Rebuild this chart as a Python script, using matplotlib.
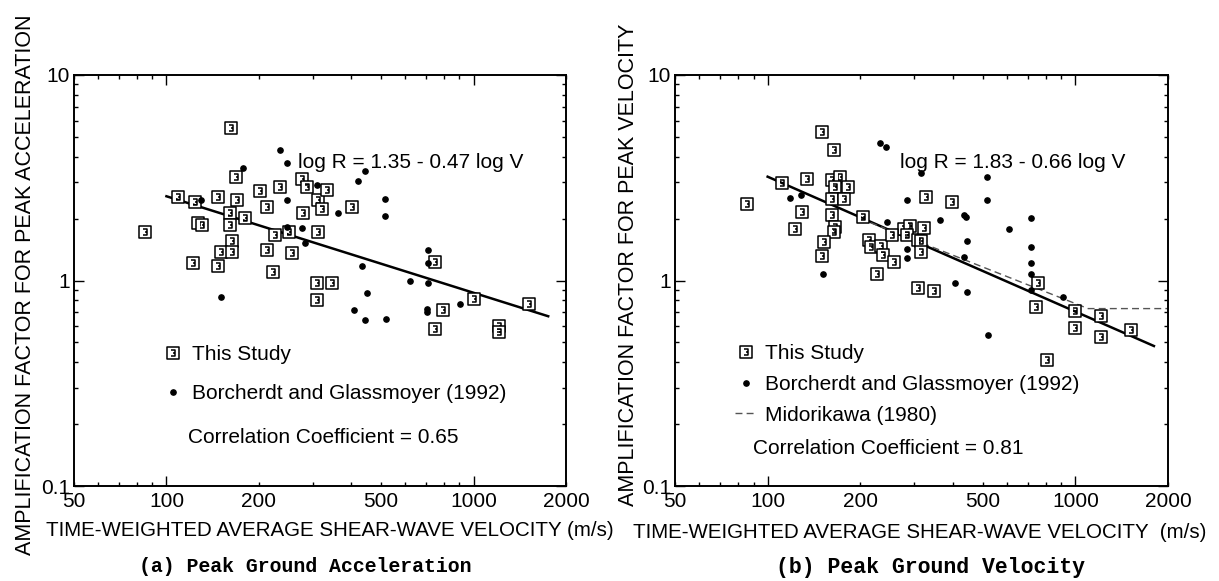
import matplotlib
matplotlib.use("Agg")
import matplotlib.pyplot as plt
from matplotlib.path import Path
from matplotlib.ticker import FixedLocator, FuncFormatter

plt.rcParams['font.family'] = ['Liberation Sans', 'DejaVu Sans']

# ---- panel (a): peak ground acceleration ----
a_study_v = [162, 85, 168, 109, 124, 147, 170, 202, 235, 212, 276, 286, 312, 127, 131,
             161, 161, 180, 163, 151, 163, 122, 147, 226, 250, 212, 256, 223, 279, 310,
             310, 312, 333, 320, 402, 345, 750, 798, 750, 1000, 1510, 1206, 1206]
a_study_r = [5.5, 1.72, 3.20, 2.56, 2.42, 2.56, 2.47, 2.74, 2.84, 2.29, 3.12, 2.86, 2.47, 1.90, 1.86,
             2.13, 1.86, 2.01, 1.55, 1.38, 1.38, 1.21, 1.18, 1.66, 1.73, 1.41, 1.36, 1.10, 2.12, 0.97,
             0.80, 1.73, 2.75, 2.24, 2.27, 0.975, 1.23, 0.72, 0.58, 0.81, 0.77, 0.60, 0.56]
a_bg_v = [235, 247, 178, 130, 247, 247, 276, 283, 150, 309, 444, 422, 515, 515, 363,
          433, 621, 713, 713, 713, 449, 407, 444, 519, 704, 704, 904]
a_bg_r = [4.31, 3.72, 3.54, 2.47, 2.47, 1.83, 1.80, 1.52, 0.83, 2.92, 3.41, 3.05, 2.49, 2.06, 2.12,
          1.17, 1.00, 0.975, 1.40, 1.21, 0.87, 0.72, 0.64, 0.65, 0.73, 0.70, 0.77]
a_fit_v = [100, 1750]
a_fit_r = [2.57, 0.67]

# ---- panel (b): peak ground velocity ----
b_study_v = [150, 164, 86, 111, 134, 162, 172, 165, 183, 162, 177, 129, 123, 162, 204,
             166, 164, 153, 150, 226, 213, 216, 233, 237, 257, 277, 290, 284, 308, 308,
             326, 398, 322, 314, 314, 347, 754, 744, 1000, 1000, 1211, 1517, 1211, 808, 254]
b_study_r = [5.26, 4.31, 2.36, 2.99, 3.11, 3.08, 3.18, 2.84, 2.84, 2.49, 2.49, 2.16, 1.78, 2.08, 2.03,
             1.83, 1.73, 1.54, 1.31, 1.08, 1.57, 1.46, 1.47, 1.33, 1.23, 1.79, 1.84, 1.67, 1.57, 0.92,
             2.56, 2.42, 1.81, 1.56, 1.38, 0.89, 0.975, 0.745, 0.71, 0.59, 0.67, 0.574, 0.53, 0.41, 1.67]
b_bg_v = [231, 243, 118, 128, 284, 245, 284, 284, 151, 314, 515, 515, 435, 440, 363,
          717, 609, 446, 717, 717, 717, 717, 435, 405, 446, 909, 520]
b_bg_r = [4.65, 4.48, 2.51, 2.61, 2.47, 1.93, 1.43, 1.28, 1.08, 3.35, 3.18, 2.47, 2.08, 2.03, 1.97,
          2.02, 1.79, 1.56, 1.45, 1.21, 1.08, 0.90, 1.30, 0.975, 0.88, 0.83, 0.54]
b_fit_v = [100, 1800]
b_fit_r = [3.20, 0.48]
b_mido_v = [200, 1100, 2000]
b_mido_r = [2.0, 0.73, 0.73]

x_major = [100, 1000]
x_minor = [50, 60, 70, 80, 90, 200, 300, 400, 500, 600, 700, 800, 900, 2000]
x_labelled = [50, 200, 500, 2000]
y_major = [0.1, 1, 10]
y_minor = [0.2, 0.3, 0.4, 0.5, 0.6, 0.7, 0.8, 0.9, 2, 3, 4, 5, 6, 7, 8, 9]

# open square with a small bracket inside, like the printed symbol
sq_verts = [(-1, -1), (1, -1), (1, 1), (-1, 1), (-1, -1),
            (-0.4, 0.45), (0.35, 0.45), (0.35, -0.45), (-0.4, -0.45),
            (-0.05, 0.0), (0.35, 0.0)]
sq_codes = [Path.MOVETO, Path.LINETO, Path.LINETO, Path.LINETO, Path.CLOSEPOLY,
            Path.MOVETO, Path.LINETO, Path.LINETO, Path.LINETO,
            Path.MOVETO, Path.LINETO]
sq_marker = Path(sq_verts, sq_codes)

W, H = 1219, 581
fig = plt.figure(figsize=(W / 100, H / 100), dpi=100)
ax_a = fig.add_axes([74 / W, 95 / H, 492 / W, 411 / H])
ax_b = fig.add_axes([675 / W, 95 / H, 493 / W, 411 / H])


def style_axis(ax):
    ax.set_xscale('log')
    ax.set_yscale('log')
    ax.set_xlim(50, 2000)
    ax.set_ylim(0.1, 10)
    ax.xaxis.set_major_locator(FixedLocator(x_major))
    ax.xaxis.set_minor_locator(FixedLocator(x_minor))
    ax.xaxis.set_major_formatter(FuncFormatter(lambda v, p: f'{v:g}'))
    ax.xaxis.set_minor_formatter(FuncFormatter(
        lambda v, p: f'{v:g}' if round(v) in x_labelled else ''))
    ax.yaxis.set_major_locator(FixedLocator(y_major))
    ax.yaxis.set_minor_locator(FixedLocator(y_minor))
    ax.yaxis.set_major_formatter(FuncFormatter(lambda v, p: f'{v:g}'))
    ax.yaxis.set_minor_formatter(FuncFormatter(lambda v, p: ''))
    ax.tick_params(which='both', direction='in', top=True, right=True,
                   width=1.0, labelsize=15)
    ax.tick_params(which='major', length=7)
    ax.tick_params(which='minor', length=2.8)
    ax.tick_params(axis='x', which='both', pad=4)
    ax.tick_params(axis='y', which='both', pad=3)
    for s in ax.spines.values():
        s.set_linewidth(1.4)


def draw_points(ax, sv, sr, bv, br):
    h1, = ax.plot(sv, sr, ls='none', marker=sq_marker, ms=8.3, mfc='white',
                  mec='black', mew=1.1, label='This Study', zorder=3)
    h2, = ax.plot(bv, br, ls='none', marker='o', ms=3.8, color='black',
                  label='Borcherdt and Glassmoyer (1992)', zorder=4)
    return h1, h2


# panel (a)
style_axis(ax_a)
ha1, ha2 = draw_points(ax_a, a_study_v, a_study_r, a_bg_v, a_bg_r)
ax_a.plot(a_fit_v, a_fit_r, color='black', lw=1.8, zorder=2)
ax_a.text(0.455, 0.788, 'log R = 1.35 - 0.47 log V', transform=ax_a.transAxes,
          fontsize=15, va='center', ha='left')
ax_a.legend(handles=[ha1, ha2], loc='upper left', bbox_to_anchor=(0.18, 0.343),
            frameon=False, fontsize=15, borderpad=0, borderaxespad=0,
            handlelength=1.0, handletextpad=0.4, labelspacing=0.95)
ax_a.text(0.232, 0.117, 'Correlation Coefficient = 0.65', transform=ax_a.transAxes,
          fontsize=15, va='center', ha='left')

# panel (b)
style_axis(ax_b)
hb1, hb2 = draw_points(ax_b, b_study_v, b_study_r, b_bg_v, b_bg_r)
ax_b.plot(b_fit_v, b_fit_r, color='black', lw=1.8, zorder=2)
hb3, = ax_b.plot(b_mido_v, b_mido_r, color='#555555', lw=1.0, ls=(0, (5, 3)),
                 label='Midorikawa (1980)', zorder=2)
ax_b.text(0.456, 0.786, 'log R = 1.83 - 0.66 log V', transform=ax_b.transAxes,
          fontsize=15, va='center', ha='left')
ax_b.legend(handles=[hb1, hb2, hb3], loc='upper left', bbox_to_anchor=(0.122, 0.345),
            frameon=False, fontsize=15, borderpad=0, borderaxespad=0,
            handlelength=1.05, handletextpad=0.4, labelspacing=0.56)
ax_b.text(0.158, 0.092, 'Correlation Coefficient = 0.81', transform=ax_b.transAxes,
          fontsize=15, va='center', ha='left')

# axis titles and captions
fig.text(330 / W, 1 - 531 / H, 'TIME-WEIGHTED AVERAGE SHEAR-WAVE VELOCITY (m/s)',
         fontsize=14.8, ha='center', va='center')
fig.text(920 / W, 1 - 533 / H, 'TIME-WEIGHTED AVERAGE SHEAR-WAVE VELOCITY  (m/s)',
         fontsize=14.8, ha='center', va='center')
fig.text(26 / W, 1 - 285 / H, 'AMPLIFICATION FACTOR FOR PEAK ACCELERATION',
         fontsize=15.5, ha='center', va='center', rotation=90)
fig.text(628 / W, 1 - 265 / H, 'AMPLIFICATION FACTOR FOR PEAK VELOCITY',
         fontsize=15.5, ha='center', va='center', rotation=90)
fig.text(305 / W, 1 - 566 / H, '(a) Peak Ground Acceleration',
         family='Liberation Mono', fontweight='bold', fontsize=14.3, ha='center', va='center')
fig.text(930 / W, 1 - 567 / H, '(b) Peak Ground Velocity',
         family='Liberation Mono', fontweight='bold', fontsize=15.5, ha='center', va='center')

fig.savefig('out.png', dpi=100, facecolor='white')
